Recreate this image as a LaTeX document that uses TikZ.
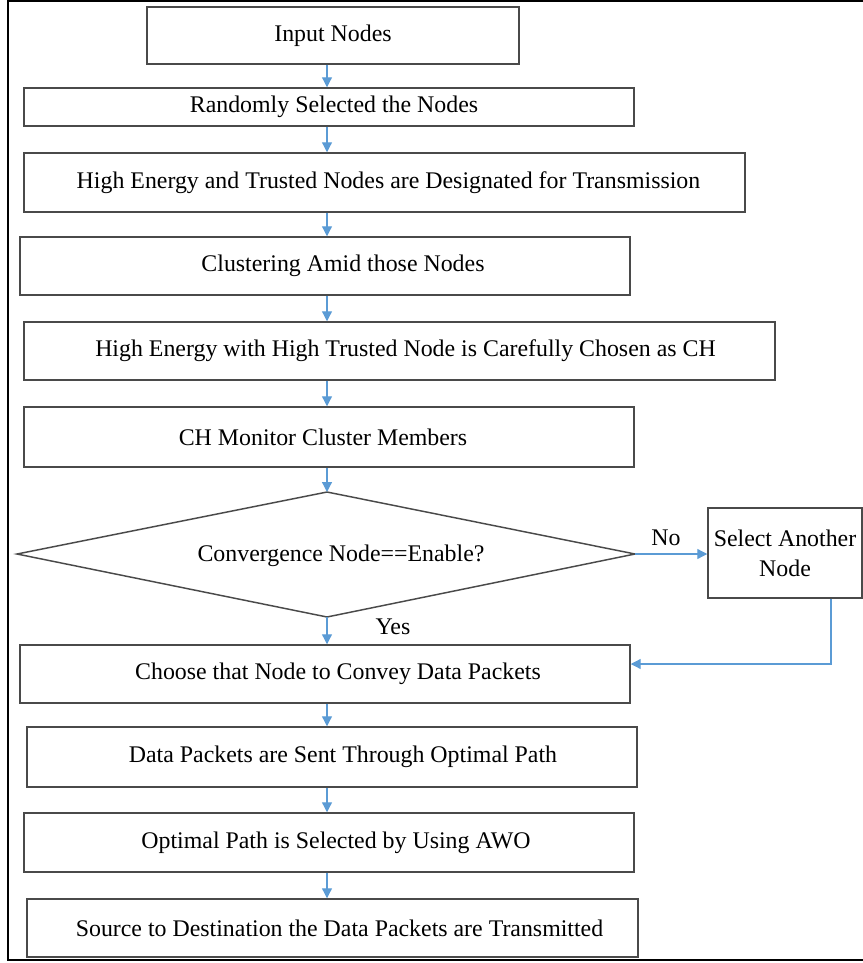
\documentclass[tikz,border=0pt]{standalone}
\usepackage{fontspec}
\setmainfont{Liberation Serif}
\usetikzlibrary{arrows.meta}
\definecolor{boxgray}{HTML}{4A4A4A}
\definecolor{arrblue}{HTML}{5B9BD5}
\newcommand\flowbox[7]{\node[fbox,minimum width={(#4-#2)*0.75pt},minimum height={(#5-#3)*0.75pt}] (#1) at ({(#2+#4)/2},{(#3+#5)/2}) {};
  \node[lbl] (#1t) at ([xshift=#6*0.75pt]#1.center) {#7};}
\begin{document}
\begin{tikzpicture}[x=0.75pt,y=-0.75pt,
  fbox/.style={draw=boxgray,line width=1.1pt,inner sep=0pt},
  lbl/.style={inner sep=0pt,align=center,font=\fontsize{17.9}{22.5}\selectfont},
  arr/.style={draw=arrblue,line width=0.9pt,-{Triangle[length=7.5pt,width=7.5pt]}}]
\useasboundingbox (0,0) rectangle (863,963);
% frame
\draw[black,line width=1pt] (864,1) -- (8,1) -- (8,960) -- (864,960);
\coordinate (col) at (327,0);
\flowbox{b1}{147}{7}{519}{64}{0}{Input Nodes}
\flowbox{b2}{24}{88}{634}{126}{5}{Randomly Selected the Nodes}
\flowbox{b3}{24}{153}{745}{212}{4}{High Energy and Trusted Nodes are Designated for Transmission}
\flowbox{b4}{20}{237}{630}{295}{18}{Clustering Amid those Nodes}
\flowbox{b5}{24}{322}{775}{380}{6}{High Energy with High Trusted Node is Carefully Chosen as CH}
\flowbox{b6}{24}{407}{634}{467}{-6}{CH Monitor Cluster Members}
% decision diamond
\coordinate (dl) at (17,554);
\coordinate (dr) at (635,554);
\coordinate (dt) at (327,492);
\coordinate (db) at (327,617);
\draw[boxgray,line width=1.1pt] (dl) -- (dt) -- (dr) -- (db) -- cycle;
\node[lbl] (dtxt) at (341,556) {Convergence Node==Enable?};
\flowbox{sel}{708}{508}{862}{598}{0}{Select Another\\Node}
\flowbox{b7}{20}{645}{630}{703}{13}{Choose that Node to Convey Data Packets}
\flowbox{b8}{27}{727}{637}{787}{11}{Data Packets are Sent Through Optimal Path}
\flowbox{b9}{24}{813}{634}{872}{7}{Optimal Path is Selected by Using AWO}
\flowbox{b10}{27}{899}{638}{957}{7}{Source to Destination the Data Packets are Transmitted}
\node[lbl] (yes) at (393,627) {Yes};
\node[lbl] (no) at (666,538) {No};
% connectors
\draw[arr] (b1.south -| col) -- (b2.north -| col);
\draw[arr] (b2.south -| col) -- (b3.north -| col);
\draw[arr] (b3.south -| col) -- (b4.north -| col);
\draw[arr] (b4.south -| col) -- (b5.north -| col);
\draw[arr] (b5.south -| col) -- (b6.north -| col);
\draw[arr] (b6.south -| col) -- (dt);
\draw[arr] (db) -- (b7.north -| col);
\draw[arr] (dr) -- (sel.west |- dr);
\coordinate (ret) at (831,664);
\draw[arr] (sel.south -| ret) -- (ret) -- (b7.east |- ret);
\draw[arr] (b7.south -| col) -- (b8.north -| col);
\draw[arr] (b8.south -| col) -- (b9.north -| col);
\draw[arr] (b9.south -| col) -- (b10.north -| col);
\end{tikzpicture}
\end{document}
